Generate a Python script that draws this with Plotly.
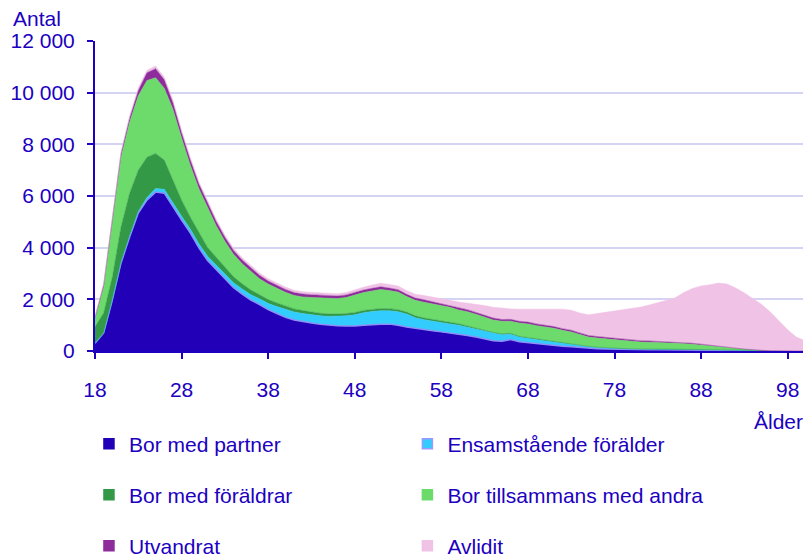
import plotly.graph_objects as go

ages = list(range(18, 101))

partner = [300, 700, 1970, 3400, 4410, 5340, 5840, 6150, 6110, 5570, 5070, 4570, 3990, 3500, 3150, 2800,
           2450, 2200, 1970, 1800, 1600, 1450, 1300, 1200, 1130, 1080, 1040, 1000, 980, 970, 970, 1000, 1030, 1040, 1040, 1000, 930,
           870, 820, 780, 740, 700, 660, 600, 540, 470, 400, 380, 440, 360, 320, 290, 240, 210, 180, 160, 130, 110,
           90, 75, 65, 60, 55, 50, 50, 50, 50, 45, 40, 35, 30, 30, 25, 20, 15, 10, 10, 5, 0, 0, 0, 0, 0]
ensam = [0, 0, 10, 20, 40, 60, 100, 140, 150, 150, 150, 150, 160, 170, 180, 190,
         190, 200, 210, 220, 240, 270, 300, 310, 320, 320, 320, 340, 360, 390, 430, 480, 500, 520, 520, 520, 500,
         420, 390, 370, 350, 350, 340, 320, 300, 290, 280, 250, 210, 180, 170, 165, 160, 140, 120, 100, 80, 60,
         50, 40, 30, 25, 20, 20, 20, 20, 20, 20, 15, 15, 15, 10, 10, 10, 5, 5, 5, 0, 0, 0, 0, 0, 0]
foraldrar = [640, 770, 880, 1380, 1660, 1600, 1560, 1360, 1130, 900, 620, 470, 420, 340, 300, 260,
             230, 200, 180, 160, 150, 140, 130, 120, 115, 110, 100, 100, 90, 90, 90, 90, 85, 85, 80, 80, 75,
             70, 70, 65, 60, 60, 55, 50, 50, 45, 40, 40, 35, 30, 30, 25, 25, 20, 20, 15, 15, 10,
             10, 10, 10, 10, 10, 5, 5, 5, 5, 5, 5, 5, 5, 5, 5, 0, 0, 0, 0, 0, 0, 0, 0, 0, 0]
andra = [330, 1000, 2130, 2700, 2750, 2880, 2970, 2930, 2780, 2740, 2410, 2010, 1710, 1580, 1220, 1000,
         880, 780, 720, 620, 600, 560, 540, 520, 530, 560, 590, 600, 600, 620, 690, 690, 710, 740, 700, 680, 600,
         600, 610, 605, 610, 580, 535, 550, 530, 495, 480, 480, 470, 510, 530, 500, 505, 510, 480, 465, 415, 360,
         350, 345, 335, 305, 285, 275, 265, 255, 245, 240, 230, 205, 180, 145, 110, 90, 70, 45, 15, 10, 5, 0, 0, 0, 0]
utvandrat = [30, 80, 100, 120, 150, 200, 300, 350, 330, 250, 200, 200, 180, 170, 160, 150,
             140, 140, 130, 130, 120, 120, 115, 110, 110, 110, 105, 100, 100, 100, 100, 100, 100, 100, 95, 95, 90,
             90, 90, 85, 85, 80, 80, 80, 75, 75, 75, 70, 70, 70, 70, 70, 70, 65, 65, 65, 60, 60,
             60, 55, 55, 55, 50, 50, 50, 45, 45, 40, 40, 40, 35, 30, 30, 25, 20, 15, 10, 10, 5, 0, 0, 0, 0]
avlidit = [50, 80, 100, 100, 100, 100, 100, 100, 100, 100, 100, 100, 90, 90, 90, 90,
           90, 90, 90, 90, 90, 90, 90, 90, 90, 90, 90, 90, 90, 90, 100, 110, 130, 140, 140, 140, 145,
           150, 170, 175, 185, 190, 230, 260, 325, 385, 415, 430, 405, 470, 500, 570, 620, 675, 755, 775, 770, 800,
           890, 985, 1055, 1135, 1220, 1300, 1390, 1485, 1595, 1710, 1930, 2120, 2255, 2340, 2450, 2445, 2330, 2175, 2000, 1775,
           1500, 1180, 820, 540, 400]

names = ["Bor med partner", "Ensamstående förälder", "Bor med föräldrar",
         "Bor tillsammans med andra", "Utvandrat", "Avlidit"]
series = [partner, ensam, foraldrar, andra, utvandrat, avlidit]
colors = ["#2100B8", "#33CCFF", "#339947", "#6DDB6B", "#8E2C9C", "#F0C2E6"]
edges = ["#8F8FF5", "#33CCFF", "#339947", "#6DDB6B", "#8E2C9C", "#F0C2E6"]
legend_edges = ["#2100B8", "#9999FF", "#339947", "#6DDB6B", "#8E2C9C", "#F0C2E6"]

xtick_vals = [18, 28, 38, 48, 58, 68, 78, 88, 98]
ytick_vals = [0, 2000, 4000, 6000, 8000, 10000, 12000]

TXT = "#2000C0"
AX = "#2000C0"
FONT = "Liberation Sans, Arial, sans-serif"

fig = go.Figure()
for i, (nm, vals) in enumerate(zip(names, series)):
    fig.add_trace(go.Scatter(
        x=ages, y=vals, name=nm, stackgroup="one", mode="lines",
        line=dict(color=edges[i], width=1.5 if i == 0 else 0.5),
        fillcolor=colors[i], showlegend=False, hoverinfo="skip"))

legend_pos = [(-0.0085, -0.300), (0.4400, -0.300),
              (-0.0085, -0.4645), (0.4400, -0.4645),
              (-0.0085, -0.629), (0.4400, -0.629)]
layout_legends = {}
for i, nm in enumerate(names):
    key = "legend" if i == 0 else f"legend{i + 1}"
    fig.add_trace(go.Scatter(
        x=[None], y=[None], mode="markers", name=nm, showlegend=True, legend=key,
        marker=dict(symbol="square", size=10, color=colors[i],
                    line=dict(width=1.5, color=legend_edges[i]))))
    lx, ly = legend_pos[i]
    layout_legends[key] = dict(x=lx, y=ly, xanchor="left", yanchor="middle",
                               orientation="h", bgcolor="rgba(0,0,0,0)", borderwidth=0,
                               font=dict(family=FONT, size=21, color=TXT))

# The page body adds an 8px offset, so the margins are shifted to compensate.
fig.update_layout(
    width=811, height=558, autosize=False,
    margin=dict(l=87, r=14, t=33, b=215, pad=0, autoexpand=False),
    paper_bgcolor="white", plot_bgcolor="white",
    separators=", ",
    font=dict(family=FONT, size=21, color=TXT),
    **layout_legends,
    xaxis=dict(range=[18, 100], tickmode="array", tickvals=xtick_vals,
               showline=True, linecolor=AX, linewidth=2, mirror=False,
               ticks="outside", ticklen=6, tickwidth=2, tickcolor=AX,
               showgrid=False, zeroline=False, ticklabelstandoff=13, automargin=False,
               tickfont=dict(family=FONT, size=21, color=TXT)),
    yaxis=dict(range=[0, 12000], tickmode="array", tickvals=ytick_vals, tickformat=",d",
               showline=True, linecolor=AX, linewidth=2,
               ticks="outside", ticklen=6, tickwidth=2, tickcolor=AX,
               showgrid=True, gridcolor="#D4D4F2", gridwidth=2, zeroline=False,
               ticklabelstandoff=8, automargin=False,
               tickfont=dict(family=FONT, size=21, color=TXT)),
    annotations=[
        dict(text="Antal", xref="paper", yref="paper", x=-0.119, y=1.074,
             xanchor="left", yanchor="middle", showarrow=False,
             font=dict(family=FONT, size=21, color=TXT)),
        dict(text="Ålder", xref="paper", yref="paper", x=1.0, y=-0.229,
             xanchor="right", yanchor="middle", showarrow=False,
             font=dict(family=FONT, size=21, color=TXT)),
    ],
)

fig.write_html("out.html")
